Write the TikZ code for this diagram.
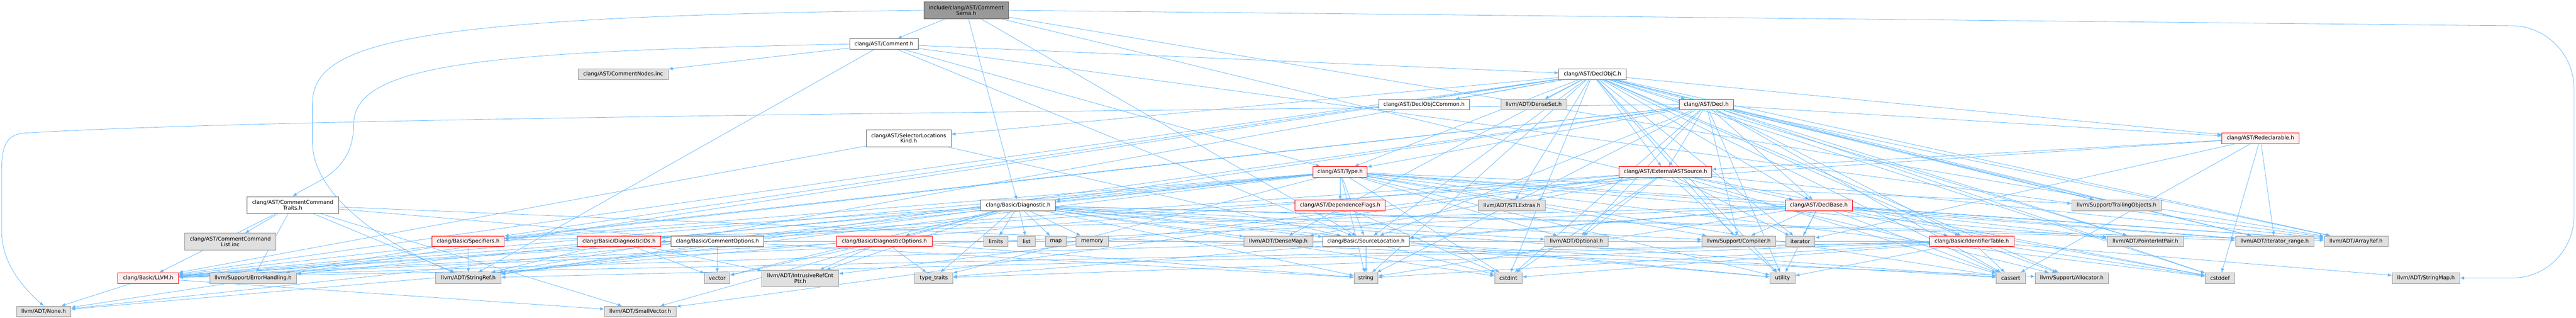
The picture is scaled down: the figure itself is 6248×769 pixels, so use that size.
\documentclass[tikz,border=0pt]{standalone}
\usepackage{fontspec}
\setmainfont{DejaVu Sans}
\usetikzlibrary{arrows.meta}
\definecolor{edgeblue}{HTML}{63B8FF}
\definecolor{redfill}{HTML}{FFF0F0}
\pgfdeclarelayer{edges}
\pgfsetlayers{edges,main}
\tikzset{
file box/.style={draw=#1,line width=1pt,inner sep=0pt,minimum height=26,align=center,
  font=\fontsize{12.8}{13.6}\selectfont},
file node/.style={file box=black!60,fill=white},
sys node/.style={file box=black!40,fill=black!12},
trunc node/.style={file box=red,fill=redfill},
root node/.style={file box=black!60,fill=black!40,minimum height=41},
two lines/.style={minimum height=41},
dep edge/.style={draw=edgeblue,line width=1pt,-{Latex[length=10pt,width=8pt]}},
}
\begin{document}
\begin{tikzpicture}[x=1pt,y=-1pt]
\useasboundingbox (0,0) rectangle (6248,769);
\node[root node,minimum width=206] (root) at (2343.5,25) {include/clang/AST/Comment\\Sema.h};
\node[file node,minimum width=166] (comment) at (2144,106.5) {clang/AST/Comment.h};
\node[sys node,minimum width=219] (nodesinc) at (1511.5,179.5) {clang/AST/CommentNodes.inc};
\node[file node,two lines,minimum width=222] (traits) at (710,496.5) {clang/AST/CommentCommand\\Traits.h};
\node[sys node,two lines,minimum width=221] (listinc) at (558.5,585) {clang/AST/CommentCommand\\List.inc};
\node[trunc node,minimum width=147] (llvm) at (359.5,673) {clang/Basic/LLVM.h};
\node[sys node,minimum width=210] (errh) at (614,673) {llvm/Support/ErrorHandling.h};
\node[sys node,minimum width=132] (none) at (106,754) {llvm/ADT/None.h};
\node[trunc node,minimum width=175] (spec) at (1135.5,584) {clang/Basic/Specifiers.h};
\node[trunc node,minimum width=203] (diagids) at (1501.5,584) {clang/Basic/DiagnosticIDs.h};
\node[file node,minimum width=226] (opts) at (1740,584) {clang/Basic/CommentOptions.h};
\node[sys node,minimum width=158] (strref) at (1136,673) {llvm/ADT/StringRef.h};
\node[sys node,minimum width=61] (vector) at (1739.5,673) {vector};
\node[sys node,two lines,minimum width=186] (intrusive) at (1941,674) {llvm/ADT/IntrusiveRefCnt\\Ptr.h};
\node[sys node,minimum width=174] (smallvec) at (1553,754) {llvm/ADT/SmallVector.h};
\node[file node,two lines,minimum width=206] (selloc) at (2204,334.5) {clang/AST/SelectorLocations\\Kind.h};
\node[file node,minimum width=181] (diag) at (2469.5,497) {clang/Basic/Diagnostic.h};
\node[trunc node,minimum width=232] (diagopts) at (2145,584) {clang/Basic/DiagnosticOptions.h};
\node[sys node,minimum width=59] (limits) at (2415.5,584) {limits};
\node[sys node,minimum width=42] (list) at (2490,584) {list};
\node[sys node,minimum width=50] (map) at (2561,584) {map};
\node[sys node,minimum width=78] (memory) at (2649,584) {memory};
\node[sys node,minimum width=92] (typetraits) at (2265,673) {type\_traits};
\node[file node,minimum width=163] (declobjc) at (3862.5,180) {clang/AST/DeclObjC.h};
\node[file node,minimum width=220] (objccommon) at (3454,253) {clang/AST/DeclObjCCommon.h};
\node[sys node,minimum width=160] (denseset) at (3720,253) {llvm/ADT/DenseSet.h};
\node[trunc node,minimum width=131] (type) at (3250.5,416) {clang/AST/Type.h};
\node[trunc node,minimum width=219] (depflags) at (3250.5,497) {clang/AST/DependenceFlags.h};
\node[sys node,minimum width=162] (stlext) at (3667,497) {llvm/ADT/STLExtras.h};
\node[sys node,minimum width=167] (densemap) at (3100.5,584) {llvm/ADT/DenseMap.h};
\node[file node,minimum width=210] (srcloc) at (3313,584) {clang/Basic/SourceLocation.h};
\node[sys node,minimum width=153] (optional) at (3823.5,584) {llvm/ADT/Optional.h};
\node[sys node,minimum width=58] (string) at (3313,673) {string};
\node[sys node,minimum width=67] (cstdint) at (3658.5,673) {cstdint};
\node[trunc node,minimum width=225] (extsrc) at (4039.5,416) {clang/AST/ExternalASTSource.h};
\node[trunc node,minimum width=131] (decl) at (4138.5,253) {clang/AST/Decl.h};
\node[trunc node,minimum width=163] (declbase) at (4411.5,497) {clang/AST/DeclBase.h};
\node[sys node,minimum width=178] (compiler) at (4217,584) {llvm/Support/Compiler.h};
\node[sys node,minimum width=71] (iterator) at (4366.5,584) {iterator};
\node[trunc node,minimum width=205] (idtable) at (4782.5,584) {clang/Basic/IdentifierTable.h};
\node[sys node,minimum width=61] (utility) at (4323.5,673) {utility};
\node[sys node,minimum width=70] (cassert) at (4877,673) {cassert};
\node[sys node,minimum width=178] (alloc) at (5025,673) {llvm/Support/Allocator.h};
\node[trunc node,minimum width=187] (redecl) at (5482.5,334.5) {clang/AST/Redeclarable.h};
\node[sys node,minimum width=217] (trailing) at (5133.5,497) {llvm/Support/TrailingObjects.h};
\node[sys node,minimum width=185] (ptrint) at (5203.5,584) {llvm/ADT/PointerIntPair.h};
\node[sys node,minimum width=190] (itrange) at (5517,584) {llvm/ADT/iterator\_range.h};
\node[sys node,minimum width=155] (arrayref) at (5714.5,584) {llvm/ADT/ArrayRef.h};
\node[sys node,minimum width=71] (cstddef) at (5384.5,673) {cstddef};
\node[sys node,minimum width=164] (strmap) at (5884,673) {llvm/ADT/StringMap.h};
\begin{pgfonlayer}{edges}
\foreach \t in {comment,diag,srcloc,arrayref,alloc}
  \draw[dep edge] (root) -- (\t);
\draw[dep edge,rounded corners=150pt] (root.east) -- (6243,64) -- (6243,673) -- (strmap.east);
\draw[dep edge] (root.west) .. controls (1000,40) and (758,100) .. (758,250) -- (758,345) .. controls (758,480) and (950,600) .. (strref);
\foreach \t in {nodesinc,declobjc,type,srcloc,arrayref,strref}
  \draw[dep edge] (comment) -- (\t);
\draw[dep edge] (comment.west) .. controls (1200,125) and (858,150) .. (858,300) .. controls (858,420) and (760,440) .. (traits.north);
\foreach \t in {opts,llvm,smallvec,strref,alloc,errh,listinc}
  \draw[dep edge] (traits) -- (\t);
\foreach \t in {decl,declbase,objccommon,extsrc,redecl,selloc,type,idtable,llvm,srcloc,spec,arrayref,densemap,denseset,none,ptrint,stlext,strref,itrange,alloc,compiler,trailing,cassert,cstddef,cstdint,iterator,string,utility}
  \draw[dep edge] (declobjc) -- (\t);
\foreach \t in {declbase,extsrc,redecl,type,diag,idtable,llvm,srcloc,spec,arrayref,optional,ptrint,strref,itrange,compiler,trailing,cassert,cstddef,cstdint,string,utility}
  \draw[dep edge] (decl) -- (\t);
\draw[dep edge] (decl.west) .. controls (2000,275) and (600,290) .. (60,322) .. controls (10,326) and (4,360) .. (4,420) -- (4,560) .. controls (4,640) and (60,700) .. (none.north);
\foreach \t in {depflags,diag,llvm,srcloc,spec,arrayref,none,optional,ptrint,strref,itrange,compiler,errh,trailing,cassert,cstddef,cstdint,string,typetraits,utility}
  \draw[dep edge] (type) -- (\t);
\foreach \t in {declbase,llvm,arrayref,densemap,intrusive,none,optional,stlext,smallvec,iterator,cassert,cstddef,cstdint,utility}
  \draw[dep edge] (extsrc) -- (\t);
\foreach \t in {idtable,llvm,srcloc,spec,arrayref,ptrint,itrange,compiler,cassert,cstddef,iterator,string,typetraits,utility}
  \draw[dep edge] (declbase) -- (\t);
\foreach \t in {extsrc,llvm,itrange,cassert,cstddef,iterator}
  \draw[dep edge] (redecl) -- (\t);
\foreach \t in {llvm,srcloc}
  \draw[dep edge] (selloc) -- (\t);
\foreach \t in {diagids,llvm,strmap,strref,alloc,typetraits,cassert,cstddef,cstdint,string,utility}
  \draw[dep edge] (idtable) -- (\t);
\foreach \t in {diagids,diagopts,srcloc,spec,arrayref,densemap,intrusive,optional,smallvec,strref,itrange,compiler,cassert,cstdint,limits,list,map,memory,string,typetraits,utility,vector}
  \draw[dep edge] (diag) -- (\t);
\foreach \t in {llvm,intrusive,strref,vector}
  \draw[dep edge] (diagids) -- (\t);
\foreach \t in {llvm,intrusive,string,typetraits,vector}
  \draw[dep edge] (diagopts) -- (\t);
\foreach \t in {strref,errh}
  \draw[dep edge] (spec) -- (\t);
\foreach \t in {string,vector}
  \draw[dep edge] (opts) -- (\t);
\foreach \t in {llvm,compiler,cassert,cstdint,string,utility}
  \draw[dep edge] (srcloc) -- (\t);
\draw[dep edge] (depflags) -- (cstdint);
\foreach \t in {none,smallvec}
  \draw[dep edge] (llvm) -- (\t);
\end{pgfonlayer}
\end{tikzpicture}
\end{document}
